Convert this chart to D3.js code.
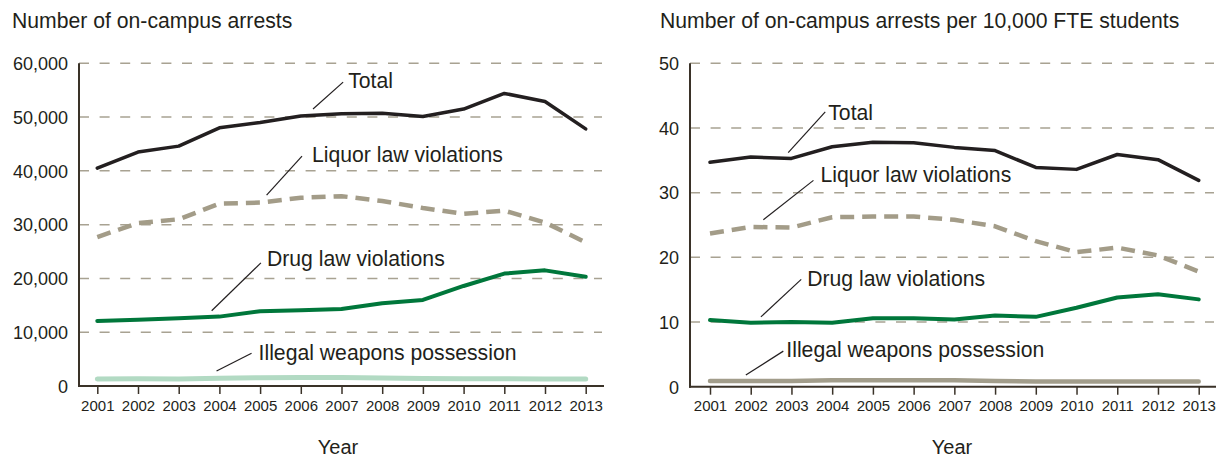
<!DOCTYPE html>
<html>
<head>
<meta charset="utf-8">
<script src="https://cdn.jsdelivr.net/npm/d3@7"></script>
<style>
  html, body { margin: 0; padding: 0; background: #fff; }
  svg { display: block; font-family: "Liberation Sans", Arial, sans-serif; }
</style>
</head>
<body>
<svg id="chart" width="1222" height="460"></svg>
<script>
// ---------------- data ----------------
const years = [2001, 2002, 2003, 2004, 2005, 2006, 2007, 2008, 2009, 2010, 2011, 2012, 2013];

// Left panel: number of on-campus arrests
const totalArrests  = [40500, 43500, 44600, 48000, 49000, 50200, 50600, 50700, 50100, 51500, 54400, 52900, 47800];
const liquorArrests = [27700, 30300, 31000, 33900, 34100, 35000, 35300, 34400, 33100, 32000, 32600, 30400, 26700];
const drugArrests   = [12100, 12300, 12600, 12900, 13900, 14100, 14300, 15400, 16000, 18600, 20900, 21500, 20300];
const weaponArrests = [1300, 1350, 1300, 1450, 1550, 1600, 1600, 1500, 1400, 1350, 1350, 1300, 1300];

// Right panel: arrests per 10,000 FTE students
const totalRate  = [34.7, 35.5, 35.3, 37.1, 37.8, 37.7, 37.0, 36.5, 33.9, 33.6, 35.9, 35.1, 31.9];
const liquorRate = [23.7, 24.7, 24.6, 26.2, 26.3, 26.3, 25.8, 24.8, 22.5, 20.8, 21.5, 20.3, 17.8];
const drugRate   = [10.3, 9.9, 10.0, 9.9, 10.6, 10.6, 10.4, 11.0, 10.8, 12.2, 13.8, 14.3, 13.5];
const weaponRate = [0.9, 0.9, 0.9, 1.0, 1.0, 1.0, 1.0, 0.9, 0.8, 0.8, 0.8, 0.8, 0.8];

const leftTicks  = [0, 10000, 20000, 30000, 40000, 50000, 60000];
const rightTicks = [0, 10, 20, 30, 40, 50];

const seriesNames = ["Total", "Liquor law violations", "Drug law violations", "Illegal weapons possession"];
const leftTitle  = "Number of on-campus arrests";
const rightTitle = "Number of on-campus arrests per 10,000 FTE students";
const xTitle = "Year";

// ---------------- drawing ----------------
const svg = d3.select("#chart");
const TEXT = "#231f1a";
const AXIS = "#3a3228";
const GRID = "#a8a292";

function panel(cfg) {
  const g = svg.append("g");
  const x = d3.scaleLinear().domain([2001, 2013]).range([cfg.x0, cfg.x1]);
  const y = d3.scaleLinear().domain([0, cfg.yMax]).range([cfg.yBottom, cfg.yTop]);

  // title
  g.append("text").attr("x", cfg.titleX).attr("y", 27.5)
    .attr("font-size", 21.2).attr("fill", TEXT).text(cfg.title);

  // gridlines (excluding 0)
  g.selectAll("line.grid").data(cfg.ticks.filter(t => t > 0)).enter().append("line")
    .attr("x1", cfg.axisX).attr("x2", cfg.axisEnd - 2)
    .attr("y1", d => y(d)).attr("y2", d => y(d))
    .attr("stroke", GRID).attr("stroke-width", 1.5).attr("stroke-dasharray", "10,10.6");

  // y axis (labels only, no ticks)
  const yAxis = d3.axisLeft(y).tickValues(cfg.ticks).tickSize(0).tickPadding(0)
    .tickFormat(cfg.fmt);
  const ya = g.append("g").attr("transform", `translate(${cfg.axisX - 11},0)`).call(yAxis);
  ya.select(".domain").remove();
  ya.selectAll("text").attr("font-size", 18).attr("fill", TEXT)
    .attr("font-family", "Liberation Sans, Arial, sans-serif").attr("dy", "0.35em");

  // x axis
  const xAxis = d3.axisBottom(x).tickValues(years).tickSize(8).tickPadding(6).tickFormat(d3.format("d"));
  const xa = g.append("g").attr("transform", `translate(0,${cfg.yBottom})`).call(xAxis);
  xa.select(".domain").remove();
  xa.selectAll(".tick line").attr("stroke", AXIS).attr("stroke-width", 1.5);
  xa.selectAll("text").attr("font-size", 15).attr("fill", TEXT)
    .attr("font-family", "Liberation Sans, Arial, sans-serif");

  // axis lines
  g.append("line").attr("x1", cfg.axisX).attr("x2", cfg.axisX)
    .attr("y1", y(cfg.yMax)).attr("y2", cfg.yBottom + 1)
    .attr("stroke", AXIS).attr("stroke-width", 2);
  g.append("line").attr("x1", cfg.axisX - 1).attr("x2", cfg.axisEnd)
    .attr("y1", cfg.yBottom).attr("y2", cfg.yBottom)
    .attr("stroke", AXIS).attr("stroke-width", 2);

  // x title
  g.append("text").attr("x", cfg.yearX).attr("y", 454).attr("text-anchor", "middle")
    .attr("font-size", 20).attr("fill", TEXT).text(xTitle);

  const line = d3.line().x((d, i) => x(years[i])).y(d => y(d));

  cfg.series.forEach(s => {
    g.append("path").datum(s.values).attr("d", line)
      .attr("fill", "none").attr("stroke", s.color).attr("stroke-width", s.width)
      .attr("stroke-dasharray", s.dash || null)
      .attr("stroke-linejoin", "round").attr("stroke-linecap", s.dash ? "butt" : "round");
  });

  // annotations (leaders defined in data coordinates)
  cfg.notes.forEach(n => {
    const xa1 = x(n.from[0]), ya1 = y(n.from[1]);
    const xa2 = x(n.to[0]), ya2 = y(n.to[1]);
    g.append("line").attr("x1", xa1).attr("y1", ya1).attr("x2", xa2).attr("y2", ya2)
      .attr("stroke", "#231f20").attr("stroke-width", 1.2);
    g.append("text").attr("x", xa2 + n.dx).attr("y", ya2 + n.dy)
      .attr("font-size", 21.2).attr("fill", TEXT).text(n.label);
  });
}

panel({
  title: leftTitle, titleX: 12,
  x0: 97.3, x1: 585.7, axisX: 79, axisEnd: 604,
  yBottom: 386, yTop: 63.3, yMax: 60000, ticks: leftTicks,
  fmt: d3.format(","), yearX: 338,
  series: [
    { values: weaponArrests, color: "#b2dac3", width: 5 },
    { values: drugArrests, color: "#00773b", width: 4 },
    { values: liquorArrests, color: "#a39c88", width: 4.5, dash: "14,8" },
    { values: totalArrests, color: "#231f20", width: 3.5 }
  ],
  notes: [
    { label: seriesNames[0], from: [2006.30, 51500], to: [2007.04, 56500], dx: 5, dy: 6 },
    { label: seriesNames[1], from: [2005.16, 35500], to: [2006.03, 42750], dx: 10, dy: 6 },
    { label: seriesNames[2], from: [2003.81, 14000], to: [2005.02, 22900], dx: 6, dy: 3 },
    { label: seriesNames[3], from: [2003.93, 2800], to: [2004.79, 6100], dx: 7, dy: 7 }
  ]
});

panel({
  title: rightTitle, titleX: 660,
  x0: 710, x1: 1198.7, axisX: 690, axisEnd: 1216,
  yBottom: 386.7, yTop: 63.3, yMax: 50, ticks: rightTicks,
  fmt: d3.format("d"), yearX: 952,
  series: [
    { values: weaponRate, color: "#a29d8b", width: 4.5 },
    { values: drugRate, color: "#00773b", width: 4 },
    { values: liquorRate, color: "#a39c88", width: 4.5, dash: "14,8" },
    { values: totalRate, color: "#231f20", width: 3.5 }
  ],
  notes: [
    { label: seriesNames[0], from: [2002.92, 36.2], to: [2003.83, 42.5], dx: 3, dy: 8 },
    { label: seriesNames[1], from: [2002.31, 25.8], to: [2003.54, 31.9], dx: 7, dy: 2 },
    { label: seriesNames[2], from: [2002.25, 10.8], to: [2003.24, 16.6], dx: 6, dy: 7 },
    { label: seriesNames[3], from: [2001.88, 1.8], to: [2002.80, 5.5], dx: 3, dy: 6 }
  ]
});
</script>
</body>
</html>
